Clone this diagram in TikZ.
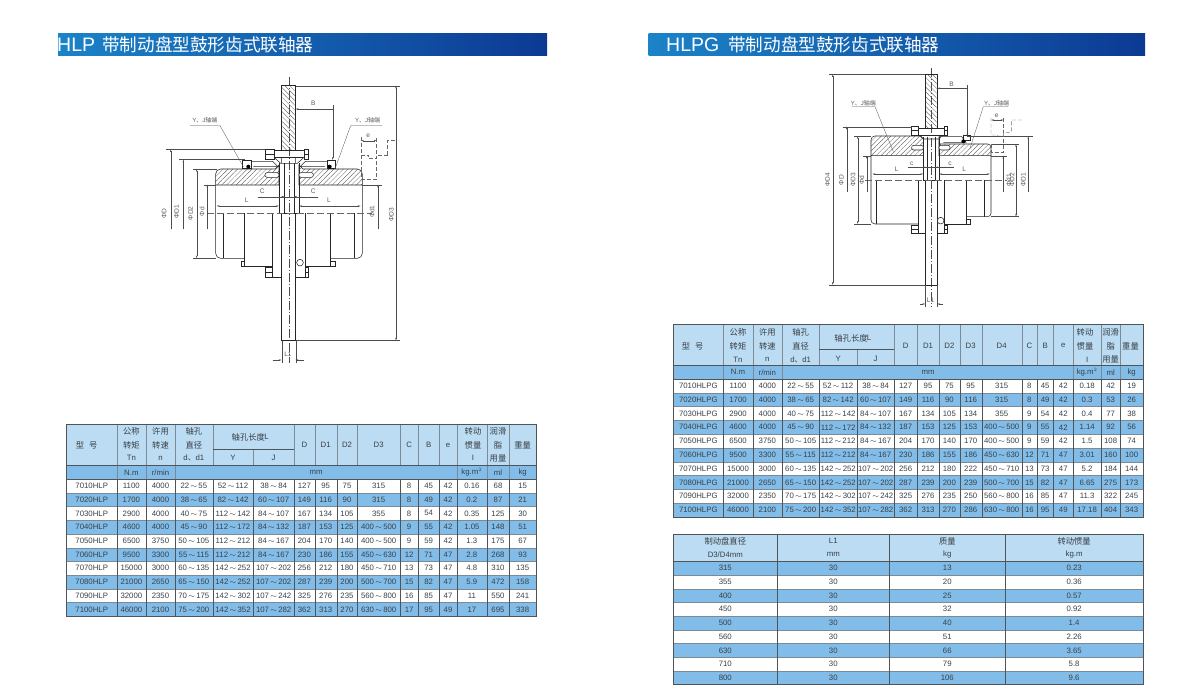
\documentclass[tikz,border=0pt]{standalone}
\usepackage{fontspec}
\setmainfont{Liberation Sans}
\newfontfamily\cjk{Noto Sans CJK SC}
\usetikzlibrary{arrows.meta,patterns.meta}
\definecolor{headblue}{HTML}{BBDCF3}
\definecolor{rowblue}{HTML}{82BDE9}
\definecolor{framegray}{HTML}{4F5459}
\definecolor{rulegray}{HTML}{7C8A96}
\definecolor{txtgray}{HTML}{3A3F44}
\definecolor{barleft}{HTML}{1B83C8}
\definecolor{barmid}{HTML}{145AA8}
\definecolor{barright}{HTML}{0C3A92}
\newcommand{\tld}{\,$\sim$\,}
\newcommand{\zh}[1]{{\cjk #1}}
\tikzset{
  cell/.style={inner sep=0pt,text=txtgray,font=\fontsize{7.8}{9}\selectfont},
  headzh/.style={inner sep=0pt,text=txtgray,font=\cjk\fontsize{8.3}{10}\selectfont},
  bartext/.style={inner sep=0pt,anchor=west,text=white},
  part/.style={line width=.55pt,draw=black!85},
  dimline/.style={line width=.3pt,draw=black!70},
  dimtext/.style={inner sep=0pt,text=black!65,font=\fontsize{6.6}{8}\selectfont},
  axisline/.style={line width=.3pt,draw=black!70,dash pattern=on 9pt off 2pt on 1pt off 2pt},
  midline/.style={line width=.4pt,draw=black!60,dash pattern=on 7pt off 3pt},
  dashpart/.style={line width=.4pt,draw=black!60,dash pattern=on 4pt off 2pt},
  hatchhub/.style={pattern={Lines[angle=45,distance=3.4pt,line width=.3pt]},pattern color=black!70},
  hatchdisc/.style={pattern={Lines[angle=-45,distance=3.4pt,line width=.3pt]},pattern color=black!70},
  dimarrow/.style={>={Stealth[length=3pt,width=1.4pt]}}
}
\def\colsL{{91.7,131.35,160.5,193.85,233,273.65,304.35,325.7,347,378.65,409.15,428.65,448,471.85,498,522.65}}
\def\colsR{{698.3,738,767.35,800.65,838.15,875.65,905.65,928,949.35,970.7,1001.7,1029.35,1045.15,1063.3,1087.15,1110.65,1131.65}}
\def\colsG{{725.3,833.3,947.3,1074.15}}
\begin{document}
\begin{tikzpicture}[x=1pt,y=-1pt,dimarrow]
\useasboundingbox (0,0) rectangle (1200,700);
% title bars
\shade[left color=barleft,middle color=barmid,right color=barright] (58,34) rectangle (547,55.5);
\shade[left color=barleft,middle color=barmid,right color=barright] (648.5,34) rectangle (1145,55.5);
\node[bartext,font=\fontsize{19.5}{22}\selectfont] (titleL) at (57,44.6) {HLP};
\node[bartext,font=\cjk\fontsize{17.6}{20}\selectfont] (titleLzh) at (102,44.6) {带制动盘型鼓形齿式联轴器};
\node[bartext,font=\fontsize{19.5}{22}\selectfont] (titleR) at (666,44.6) {HLPG};
\node[bartext,font=\cjk\fontsize{17.6}{20}\selectfont] (titleRzh) at (728,44.6) {带制动盘型鼓形齿式联轴器};

% left table
\fill[headblue] (66.7,424.3) rectangle (536,465.7);
\fill[rowblue] (66.7,465.7) rectangle (536,479);
\foreach \k in {2,4,6,8,10}
  \fill[rowblue] (66.7,{479+13.73*(\k-1)}) rectangle (536,{479+13.73*\k});
\foreach \k in {1,...,9}
  \draw[rulegray,line width=.3pt] (66.7,{479+13.73*\k}) -- (536,{479+13.73*\k});
\foreach \x in {116.7,146,175,212.7,294,314.7,336.7,357.3,400,418.3,439,457,486.7,509.3}
  \draw[rulegray,line width=.4pt] (\x,424.3) -- (\x,465.7);
\foreach \x in {116.7,146,175,212.7,253.3,294,314.7,336.7,357.3,400,418.3,439,457,486.7,509.3}
  \draw[framegray,line width=.35pt] (\x,479) -- (\x,616.3);
\foreach \x in {116.7,146,175,457,486.7,509.3}
  \draw[rulegray,line width=.4pt] (\x,465.7) -- (\x,479);
\draw[rulegray,line width=.4pt] (253.3,449.3) -- (253.3,465.7);
\draw[framegray,line width=.5pt] (212.7,449.3) -- (294,449.3);
\draw[framegray,line width=.5pt] (66.7,465.7) -- (536,465.7) (66.7,479) -- (536,479);
\draw[framegray,line width=.7pt] (66.7,424.3) rectangle (536,616.3);
\foreach \x/\y/\txt [count=\k] in {86.7/445.3/型\hspace{.6em}号,131.35/431/公称,131.35/445/转矩,160.5/431/许用,160.5/445/转速,193.85/431/轴孔,193.85/445/直径,248.3/437/轴孔长度,473/431/转动,473/445/惯量,498/431/润滑,498/445/脂,498/459/用量,522.65/445/重量}
  \node[headzh] (headL\k) at (\x,\y) {\txt};
\node[cell] (headLa) at (266.5,437) {L};
\foreach \x/\y/\txt [count=\k] in {131.35/458.3/Tn,160.5/458.3/n,193.85/458.3/{d\zh{、}d1},233/457.7/Y,273.65/457.7/J,304.35/445/D,325.7/445/D1,347/445/D2,378.65/445/D3,409.15/445/C,428.65/445/B,448/445/e,473/458.3/I,131.35/472.4/N.m,160.5/472.4/{r/min},316/472.4/mm,471.85/472.4/{kg.m$^{2}$},498/472.4/ml,522.65/472.4/kg}
  \node[cell] (unitL\k) at (\x,\y) {\txt};
\foreach \cells [count=\rw] in {
  {7010HLP,1100,4000,22\tld 55,52\tld 112,38\tld 84,127,95,75,315,8,45,42,0.16,68,15},
  {7020HLP,1700,4000,38\tld 65,82\tld 142,60\tld 107,149,116,90,315,8,49,42,0.2,87,21},
  {7030HLP,2900,4000,40\tld 75,112\tld 142,84\tld 107,167,134,105,355,8,54,42,0.35,125,30},
  {7040HLP,4600,4000,45\tld 90,112\tld 172,84\tld 132,187,153,125,400\tld 500,9,55,42,1.05,148,51},
  {7050HLP,6500,3750,50\tld 105,112\tld 212,84\tld 167,204,170,140,400\tld 500,9,59,42,1.3,175,67},
  {7060HLP,9500,3300,55\tld 115,112\tld 212,84\tld 167,230,186,155,450\tld 630,12,71,47,2.8,268,93},
  {7070HLP,15000,3000,60\tld 135,142\tld 252,107\tld 202,256,212,180,450\tld 710,13,73,47,4.8,310,135},
  {7080HLP,21000,2650,65\tld 150,142\tld 252,107\tld 202,287,239,200,500\tld 700,15,82,47,5.9,472,158},
  {7090HLP,32000,2350,70\tld 175,142\tld 302,107\tld 242,325,276,235,560\tld 800,16,85,47,11,550,241},
  {7100HLP,46000,2100,75\tld 200,142\tld 352,107\tld 282,362,313,270,630\tld 800,17,95,49,17,695,338}}
  \foreach \cel [count=\ci] in \cells {
    \pgfmathsetmacro\cx{\colsL[\ci-1]}
    \node[cell] (L\rw-\ci) at (\cx,{479+13.73*(\rw-.5)}) {\cel};
  };

% right table
\fill[headblue] (673.3,324.7) rectangle (1143,365.3);
\fill[rowblue] (673.3,365.3) rectangle (1143,379);
\foreach \k in {2,4,6,8,10}
  \fill[rowblue] (673.3,{379+13.8*(\k-1)}) rectangle (1143,{379+13.8*\k});
\foreach \k in {1,...,9}
  \draw[rulegray,line width=.3pt] (673.3,{379+13.8*\k}) -- (1143,{379+13.8*\k});
\foreach \x in {723.3,752.7,782,819.3,894.3,917,939,959.7,981.7,1021.7,1037,1053.3,1073.3,1101,1120.3}
  \draw[rulegray,line width=.4pt] (\x,324.7) -- (\x,365.3);
\foreach \x in {723.3,752.7,782,819.3,857,894.3,917,939,959.7,981.7,1021.7,1037,1053.3,1073.3,1101,1120.3}
  \draw[framegray,line width=.35pt] (\x,379) -- (\x,517);
\foreach \x in {723.3,752.7,782,1073.3,1101,1120.3}
  \draw[rulegray,line width=.4pt] (\x,365.3) -- (\x,379);
\draw[rulegray,line width=.4pt] (857,349.7) -- (857,365.3);
\draw[framegray,line width=.5pt] (819.3,349.7) -- (894.3,349.7);
\draw[framegray,line width=.5pt] (673.3,365.3) -- (1143,365.3) (673.3,379) -- (1143,379);
\draw[framegray,line width=.7pt] (673.3,324.7) rectangle (1143,517);
\foreach \x/\y/\txt [count=\k] in {692.7/346/型\hspace{.6em}号,738/332.3/公称,738/346.3/转矩,767.35/332.3/许用,767.35/346.3/转速,800.65/332.3/轴孔,800.65/346.3/直径,851/338/轴孔长度,1085/332.3/转动,1085/346.3/惯量,1110.65/332.3/润滑,1110.65/346.3/脂,1110.65/360/用量,1130.5/346.3/重量}
  \node[headzh] (headR\k) at (\x,\y) {\txt};
\node[cell] (headRa) at (869,338) {L};
\foreach \x/\y/\txt [count=\k] in {738/359.7/Tn,767.35/359.7/n,800.65/359.7/{d\zh{、}d1},838.15/359/Y,875.65/359/J,905.65/345.7/D,928/345.7/D1,949.35/345.7/D2,970.7/345.7/D3,1001.7/345.7/D4,1029.35/345.7/C,1045.15/345.7/B,1063.3/345.7/e,1087.15/359.7/I,738/372.3/N.m,767.35/372.3/{r/min},928/372.3/mm,1087.15/372.3/{kg.m$^{2}$},1110.65/372.3/ml,1131.65/372.3/kg}
  \node[cell] (unitR\k) at (\x,\y) {\txt};
\foreach \cells [count=\rw] in {
  {7010HLPG,1100,4000,22\tld 55,52\tld 112,38\tld 84,127,95,75,95,315,8,45,42,0.18,42,19},
  {7020HLPG,1700,4000,38\tld 65,82\tld 142,60\tld 107,149,116,90,116,315,8,49,42,0.3,53,26},
  {7030HLPG,2900,4000,40\tld 75,112\tld 142,84\tld 107,167,134,105,134,355,9,54,42,0.4,77,38},
  {7040HLPG,4600,4000,45\tld 90,112\tld 172,84\tld 132,187,153,125,153,400\tld 500,9,55,42,1.14,92,56},
  {7050HLPG,6500,3750,50\tld 105,112\tld 212,84\tld 167,204,170,140,170,400\tld 500,9,59,42,1.5,108,74},
  {7060HLPG,9500,3300,55\tld 115,112\tld 212,84\tld 167,230,186,155,186,450\tld 630,12,71,47,3.01,160,100},
  {7070HLPG,15000,3000,60\tld 135,142\tld 252,107\tld 202,256,212,180,222,450\tld 710,13,73,47,5.2,184,144},
  {7080HLPG,21000,2650,65\tld 150,142\tld 252,107\tld 202,287,239,200,239,500\tld 700,15,82,47,6.65,275,173},
  {7090HLPG,32000,2350,70\tld 175,142\tld 302,107\tld 242,325,276,235,250,560\tld 800,16,85,47,11.3,322,245},
  {7100HLPG,46000,2100,75\tld 200,142\tld 352,107\tld 282,362,313,270,286,630\tld 800,16,95,49,17.18,404,343}}
  \foreach \cel [count=\ci] in \cells {
    \pgfmathsetmacro\cx{\colsR[\ci-1]}
    \node[cell] (R\rw-\ci) at (\cx,{379+13.8*(\rw-.5)}) {\cel};
  };

% brake disc table
\fill[headblue] (673.3,534.3) rectangle (1143,561.3);
\foreach \k in {1,3,5,7,9}
  \fill[rowblue] (673.3,{561.3+13.7*(\k-1)}) rectangle (1143,{561.3+13.7*\k});
\foreach \k in {1,...,8}
  \draw[rulegray,line width=.3pt] (673.3,{561.3+13.7*\k}) -- (1143,{561.3+13.7*\k});
\foreach \x in {777.3,889.3,1005.3}
  \draw[framegray,line width=.4pt] (\x,534.3) -- (\x,684.6);
\draw[framegray,line width=.5pt] (673.3,561.3) -- (1143,561.3);
\draw[framegray,line width=.7pt] (673.3,534.3) rectangle (1143,684.6);
\foreach \x/\y/\txt [count=\k] in {725.3/541/制动盘直径,947.3/541/质量,1074.15/541/转动惯量}
  \node[headzh] (headG\k) at (\x,\y) {\txt};
\foreach \x/\y/\txt [count=\k] in {725.3/554.5/{D3/D4mm},833.3/541/L1,833.3/554.5/mm,947.3/554.5/kg,1074.15/554.5/kg.m}
  \node[cell] (unitG\k) at (\x,\y) {\txt};
\foreach \cells [count=\rw] in {
  {315,30,13,0.23},{355,30,20,0.36},{400,30,25,0.57},{450,30,32,0.92},{500,30,40,1.4},
  {560,30,51,2.26},{630,30,66,3.65},{710,30,79,5.8},{800,30,106,9.6}}
  \foreach \cel [count=\ci] in \cells {
    \pgfmathsetmacro\cx{\colsG[\ci-1]}
    \node[cell] (G\rw-\ci) at (\cx,{561.3+13.7*(\rw-.5)}) {\cel};
  };

% HLP drawing
\begin{scope}[shift={(150,70)},x=.3333pt,y=-.3333pt]
\draw[axisline] (416,20) -- (416,880);
\draw[part,hatchdisc] (395,47) rectangle (437,240);
\draw[part,hatchhub] (197,345) -- (197,312) to[out=90,in=180] (212,297) -- (375,297) -- (387,285) -- (387,345) -- cycle;
\draw[part,hatchhub] (447,345) -- (447,285) -- (459,297) -- (622,297) to[out=0,in=90] (637,312) -- (637,345) -- cycle;
\draw[part] (387,280) -- (387,430) (447,280) -- (447,430) (403,280) -- (403,430) (432,280) -- (432,430);
\draw[part] (372,240) rectangle (462,262);
\draw[part] (372,262) -- (392,280) -- (442,280) -- (462,262) (395,262) -- (395,280) (437,262) -- (437,280);
\draw[part,fill=white] (345,237) rectangle (372,268) (462,237) rectangle (475,268);
\draw[part] (345,252) -- (372,252) (462,252) -- (475,252);
\draw[part] (285,284) -- (300,274) -- (368,274) -- (384,290) -- (310,290);
\draw[part] (550,284) -- (535,274) -- (466,274) -- (450,290) -- (525,290);
\draw[part,fill=white] (278,271) rectangle (303,294) (531,271) rectangle (556,294);
\fill[black] (295,290) circle (2pt) (539,290) circle (2pt);
\draw[part,fill=white,rounded corners=2pt] (345,308) rectangle (387,322) (447,308) rectangle (490,322);
\draw[part] (197,345) -- (197,550) to[out=-90,in=180] (212,565) -- (283,565);
\draw[part] (637,345) -- (637,550) to[out=-90,in=0] (622,565) -- (541,565);
\draw[part] (219,430) -- (219,565) (612,430) -- (612,565);
\draw[part,line width=.8pt] (283,430) -- (283,590) -- (367,590) (541,430) -- (541,590) -- (467,590);
\draw[part,line width=.8pt] (367,430) -- (367,622) -- (395,622) (467,430) -- (467,622) -- (437,622);
\draw[part] (395,430) -- (395,812) -- (437,812) -- (437,430);
\draw[part] (387,430) -- (447,430);
\draw[part,fill=white] (275,575) rectangle (283,590) (541,575) rectangle (555,590) (345,592) rectangle (367,622) (467,592) rectangle (475,622);
\draw[part] (345,607) -- (367,607) (467,607) -- (475,607);
\draw[part,fill=white] (450,578) circle (10);
\draw[midline] (170,430) -- (665,430);
% dimensions
\draw[dimline] (48,238) -- (345,238) (88,268) -- (285,268) (130,297) -- (200,297) (130,565) -- (197,565) (162,344) -- (197,344) (637,344) -- (695,344);
\draw[dimline] (437,47) -- (750,47) (437,812) -- (750,812) (395,812) -- (395,880) (437,812) -- (437,880);
\draw[dimline,->] (62,478) -- (62,238);
\draw[dimline,->] (100,478) -- (100,268);
\draw[dimline,<->] (140,297) -- (140,565);
\draw[dimline,->] (172,478) -- (172,344);
\draw[dimline,->] (684,478) -- (684,344);
\draw[dimline,<->] (738,47) -- (738,812);
\draw[dimline,->] (548,105) -- (548,270);
\draw[dimline,->] (548,117) -- (437,117);
\draw[dimline,->] (325,380) -- (403,380);
\draw[dimline,->] (505,380) -- (432,380);
\draw[dimline] (387,380) -- (447,380);
\draw[dimline,<->] (200,408) -- (387,408);
\draw[dimline,<->] (447,408) -- (632,408);
\draw[dimline,->] (368,870) -- (395,870);
\draw[dimline,->] (462,870) -- (437,870);
\draw[dimline] (120,167) -- (210,167) -- (280,290) (697,167) -- (602,167) -- (555,297);
\draw[dimline,<->] (633,212) -- (680,212);
\draw[dashpart] (633,200) -- (633,255) -- (655,255) -- (655,265) -- (680,265) -- (680,255) -- (713,255);
\draw[dashpart] (680,205) -- (680,255) (713,255) -- (713,210) -- (737,210);
\draw[dashpart] (633,255) -- (633,327) -- (680,327) -- (680,265);
\node[dimtext,rotate=90] (dimD) at (42,430) {ΦD};
\node[dimtext,rotate=90] (dimDa) at (80,425) {ΦD1};
\node[dimtext,rotate=90] (dimDb) at (122,430) {ΦD2};
\node[dimtext,rotate=90] (dimd) at (156,425) {Φd};
\node[dimtext,rotate=90] (dimda) at (666,425) {Φd1};
\node[dimtext,rotate=90] (dimDc) at (724,435) {ΦD3};
\node[dimtext] (dimB) at (490,100) {B};
\node[dimtext] (dimCa) at (337,365) {C};
\node[dimtext] (dimCb) at (490,365) {C};
\node[dimtext] (dimLa) at (290,392) {L};
\node[dimtext] (dimLb) at (537,392) {L};
\node[dimtext] (dimLc) at (414,853) {L1};
\node[dimtext] (dime) at (655,198) {e};
\node[dimtext,font=\fontsize{6}{7}\selectfont] (lblYa) at (165,150) {Y\zh{、}J\zh{轴端}};
\node[dimtext,font=\fontsize{6}{7}\selectfont] (lblYb) at (653,150) {Y\zh{、}J\zh{轴端}};
\end{scope}

% HLPG drawing
\begin{scope}[shift={(810,65)},x=.3333pt,y=-.3333pt]
\draw[axisline] (363,10) -- (363,725);
\draw[part,hatchdisc] (346,28) rectangle (381,190);
\draw[part,hatchhub] (183,272) -- (183,225) to[out=90,in=180] (195,213) -- (330,213) -- (340,222) -- (340,272) -- cycle;
\draw[part,hatchhub] (387,272) -- (387,237) -- (533,237) to[out=0,in=90] (543,247) -- (543,272) -- cycle;
\draw[part] (340,215) -- (340,345) (387,215) -- (387,345) (352,215) -- (352,345) (375,215) -- (375,345);
\draw[part] (325,190) rectangle (403,210);
\draw[part] (330,210) -- (340,222) -- (387,222) -- (397,210);
\draw[part,fill=white] (303,183) rectangle (325,212) (403,183) rectangle (413,212);
\draw[part] (303,197) -- (325,197) (403,197) -- (413,197);
\draw[part] (387,237) -- (387,215) -- (455,215) -- (468,232) -- (400,232);
\draw[part,fill=white] (460,212) rectangle (480,225);
\fill[black] (460,229) circle (2pt);
\draw[part,fill=white,rounded corners=2pt] (305,241) rectangle (340,255) (387,241) rectangle (420,255);
\draw[part] (183,272) -- (183,465) to[out=-90,in=180] (195,477) -- (325,477);
\draw[part] (543,272) -- (543,445) to[out=-90,in=0] (533,455) -- (470,455);
\draw[part] (200,345) -- (200,477) (523,345) -- (523,455);
\draw[part,line width=.8pt] (325,345) -- (325,505) -- (346,505) (403,345) -- (403,505) -- (381,505);
\draw[part,line width=.8pt] (470,345) -- (470,477) -- (403,477);
\draw[part] (346,345) -- (346,660) -- (381,660) -- (381,345);
\draw[part] (340,345) -- (387,345);
\draw[part,fill=white] (303,481) rectangle (325,505) (403,481) rectangle (412,505) (470,463) rectangle (480,477);
\draw[part] (303,493) -- (325,493) (403,493) -- (412,493);
\draw[part,fill=white] (392,467) circle (10);
\draw[midline] (165,345) -- (590,345);
% dimensions
\draw[dimline] (58,28) -- (346,28) (58,660) -- (346,660) (98,185) -- (305,185) (133,213) -- (183,213) (133,477) -- (183,477) (160,272) -- (183,272);
\draw[dimline] (543,272) -- (590,272) (543,237) -- (628,237) (543,455) -- (628,455) (470,213) -- (670,213);
\draw[dimline] (346,660) -- (346,725) (381,660) -- (381,725);
\draw[dimline,<->] (68,28) -- (68,660);
\draw[dimline,->] (110,380) -- (110,185);
\draw[dimline,<->] (143,213) -- (143,477);
\draw[dimline,->] (170,382) -- (170,272);
\draw[dimline,->] (580,382) -- (580,272);
\draw[dimline,<->] (618,237) -- (618,455);
\draw[dimline,->] (655,382) -- (655,213);
\draw[dimline,->] (472,60) -- (472,215);
\draw[dimline,->] (472,70) -- (381,70);
\draw[dimline,->] (295,307) -- (352,307);
\draw[dimline,->] (432,307) -- (375,307);
\draw[dimline] (340,307) -- (387,307);
\draw[dimline,<->] (187,327) -- (340,327);
\draw[dimline,<->] (387,327) -- (540,327);
\draw[dimline,->] (330,717) -- (346,717);
\draw[dimline,->] (400,717) -- (381,717);
\draw[dimline] (125,125) -- (195,125) -- (250,260) (595,125) -- (520,125) -- (480,250);
\draw[dimline,<->] (543,165) -- (581,165);
\draw[dashpart] (543,158) -- (543,210) -- (562,210) -- (562,213) -- (581,213) -- (581,205) -- (605,200) -- (605,165) -- (640,165);
\draw[dashpart] (581,158) -- (581,205);
\draw[dashpart] (543,237) -- (543,262) -- (581,262) -- (581,213);
\node[dimtext,rotate=90] (dimGd) at (53,345) {ΦD4};
\node[dimtext,rotate=90] (dimGc) at (94,345) {ΦD};
\node[dimtext,rotate=90] (dimGb) at (129,345) {ΦD3};
\node[dimtext,rotate=90] (dimGf) at (155,345) {Φd};
\node[dimtext,rotate=90] (dimGg) at (596,345) {Φd1};
\node[dimtext,rotate=90] (dimGh) at (604,345) {};
\node[dimtext,rotate=90] (dimGi) at (640,345) {ΦD1};
\node[dimtext,rotate=90] (dimGj) at (606,345) {ΦD2};
\node[dimtext] (dimGB) at (425,58) {B};
\node[dimtext] (dimGCa) at (305,295) {c};
\node[dimtext] (dimGCb) at (420,295) {c};
\node[dimtext] (dimGLa) at (260,312) {L};
\node[dimtext] (dimGLb) at (463,312) {L};
\node[dimtext] (dimGLc) at (362,705) {L1};
\node[dimtext] (dimGe) at (560,153) {e};
\node[dimtext,font=\fontsize{6}{7}\selectfont] (lblGa) at (160,115) {Y\zh{、}J\zh{轴端}};
\node[dimtext,font=\fontsize{6}{7}\selectfont] (lblGb) at (560,115) {Y\zh{、}J\zh{轴端}};
\end{scope}
\end{tikzpicture}
\end{document}
